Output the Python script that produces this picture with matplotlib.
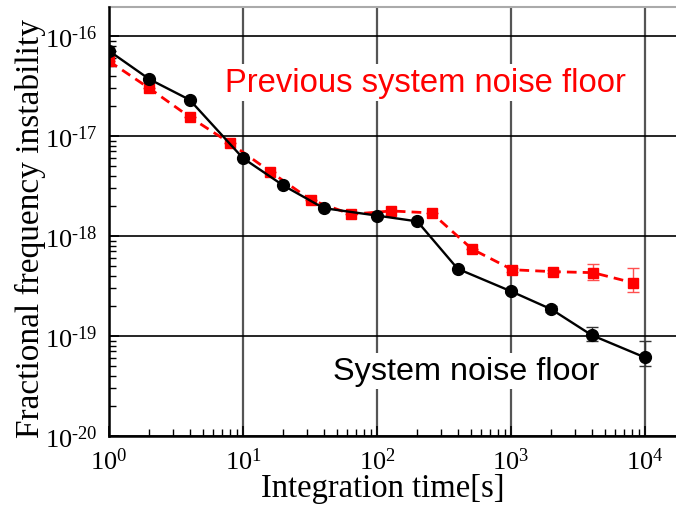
import numpy as np
import matplotlib
matplotlib.use('Agg')
import matplotlib.pyplot as plt
from matplotlib.ticker import LogLocator, NullFormatter, FixedLocator

# sistema attuale (cerchi neri)
tau_sys = [1, 2, 4, 10, 20, 40, 100, 200, 400, 1000, 2000, 4000, 10000]
adev_sys = [7.1e-17, 3.7e-17, 2.3e-17, 6.0e-18, 3.2e-18, 1.9e-18, 1.6e-18,
            1.4e-18, 4.7e-19, 2.8e-19, 1.85e-19, 1.02e-19, 6.1e-20]
err_sys_lo = [0, 0, 0, 0, 0, 0, 0, 0, 0, 0.1e-19, 0.12e-19, 0.13e-19, 1.1e-20]
err_sys_hi = [0, 0, 0, 0, 0, 0, 0, 0, 0, 0.1e-19, 0.14e-19, 0.21e-19, 2.8e-20]

# sistema precedente (quadrati rossi)
tau_prev = [1, 2, 4, 8, 16, 32, 64, 128, 256, 512, 1024, 2048, 4096, 8192]
adev_prev = [5.6e-17, 3.0e-17, 1.55e-17, 8.5e-18, 4.4e-18, 2.3e-18, 1.65e-18,
             1.78e-18, 1.7e-18, 7.4e-19, 4.6e-19, 4.4e-19, 4.3e-19, 3.4e-19]
err_prev_lo = [0, 0, 0, 0, 0, 0, 0, 0, 0, 0, 0.2e-19, 0.15e-19, 0.7e-19, 0.65e-19]
err_prev_hi = [0, 0, 0, 0, 0, 0, 0, 0, 0, 0, 0.2e-19, 0.15e-19, 0.9e-19, 1.4e-19]

xdec = [0, 1, 2, 3, 4]
ydec = [-20, -19, -18, -17, -16]

serif = ['Liberation Serif', 'DejaVu Serif']
sans = ['Liberation Sans', 'DejaVu Sans']
plt.rcParams['mathtext.fontset'] = 'custom'
plt.rcParams['mathtext.rm'] = 'Liberation Serif'

W, H = 676, 506
fig = plt.figure(figsize=(W / 100, H / 100), dpi=100)
ax = fig.add_axes([109 / W, 1 - 437 / H, (690 - 109) / W, (437 - 8) / H])
ax.set_xscale('log')
ax.set_yscale('log')
ax.set_xlim(1, 10 ** ((690 - 109) / 134))
ax.set_ylim(1e-20, 10 ** (-20 + 429 / 100))

# griglia
for d in xdec:
    ax.axvline(10.0 ** d, color='#555555', lw=1.6, zorder=1)
for d in ydec:
    ax.axhline(10.0 ** d, color='black', lw=1.2, zorder=1)

ax.errorbar(tau_prev, adev_prev, yerr=[err_prev_lo, err_prev_hi], color='#ff0000',
            ecolor='#ff5050', elinewidth=1, capsize=4, capthick=1,
            ls=(0, (3.5, 2.2)), lw=2, marker='s', ms=7, zorder=3)
ax.errorbar(tau_sys, adev_sys, yerr=[err_sys_lo, err_sys_hi], color='black',
            ecolor='#333333', elinewidth=1, capsize=4, capthick=1,
            ls='-', lw=1.7, marker='o', ms=8.5, zorder=4)

# etichette in pixel (origine in alto a sinistra)
ax.text(225, H - 92, 'Previous system noise floor', transform=None, color='#ff0000',
        fontsize=23.6, family=sans, ha='left', va='baseline', zorder=5,
        bbox=dict(facecolor='white', edgecolor='none', pad=2))
ax.text(333, H - 380, 'System noise floor', transform=None, color='black',
        fontsize=23.3, family=sans, ha='left', va='baseline', zorder=5,
        bbox=dict(facecolor='white', edgecolor='none', pad=2))

ax.xaxis.set_major_locator(FixedLocator([10.0 ** d for d in xdec]))
ax.set_xticklabels([r'$\mathregular{10^{\text{%d}}}$' % d for d in xdec])
ax.yaxis.set_major_locator(FixedLocator([10.0 ** d for d in ydec]))
ax.set_yticklabels([r'$\mathregular{10^{\text{%d}}}$' % d for d in ydec])
ax.xaxis.set_minor_locator(LogLocator(base=10, subs=np.arange(2, 10), numticks=20))
ax.yaxis.set_minor_locator(LogLocator(base=10, subs=np.arange(2, 10), numticks=20))
ax.xaxis.set_minor_formatter(NullFormatter())
ax.yaxis.set_minor_formatter(NullFormatter())

ax.tick_params(which='both', direction='in', top=False, right=False)
ax.tick_params(which='major', length=7, width=1.2, labelsize=19, pad=8)
ax.tick_params(which='minor', length=5, width=1)
for lab in ax.get_xticklabels() + ax.get_yticklabels():
    lab.set_family(serif)

ax.spines['left'].set_linewidth(1.8)
ax.spines['bottom'].set_linewidth(1.8)
ax.spines['left'].set_zorder(6)
ax.spines['top'].set_color('#aaaaaa')
ax.spines['top'].set_linewidth(1.5)
ax.spines['right'].set_visible(False)

fig.text(383 / W, 1 - 489 / H, 'Integration time[s]', fontsize=23.5, family=serif,
         ha='center', va='center')
fig.text(30 / W, 1 - 229 / H, 'Fractional frequency instability', fontsize=24,
         family=serif, ha='center', va='center', rotation=90)

fig.savefig('out.png', dpi=100)
